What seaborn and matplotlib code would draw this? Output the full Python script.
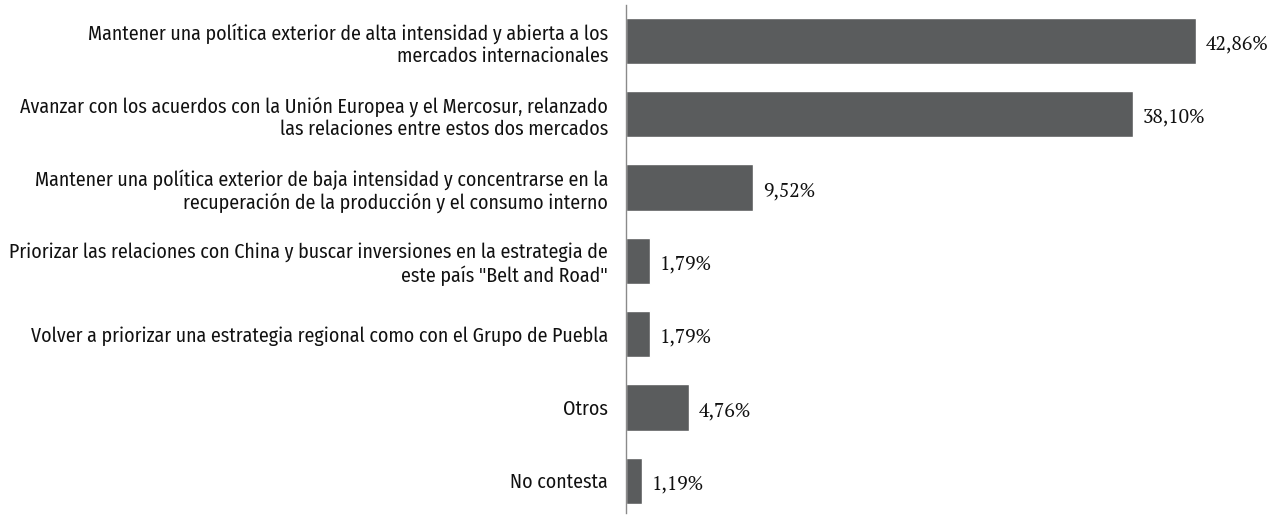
import matplotlib
matplotlib.use("Agg")
import matplotlib.pyplot as plt
import seaborn as sns
import pandas as pd

categorias = [
    "Mantener una política exterior de alta intensidad y abierta a los\nmercados internacionales",
    "Avanzar con los acuerdos con la Unión Europea y el Mercosur, relanzado\nlas relaciones entre estos dos mercados",
    "Mantener una política exterior de baja intensidad y concentrarse en la\nrecuperación de la producción y el consumo interno",
    "Priorizar las relaciones con China y buscar inversiones en la estrategia de\neste país \"Belt and Road\"",
    "Volver a priorizar una estrategia regional como con el Grupo de Puebla",
    "Otros",
    "No contesta",
]
porcentajes = [42.86, 38.10, 9.52, 1.79, 1.79, 4.76, 1.19]
etiquetas = ["42,86%", "38,10%", "9,52%", "1,79%", "1,79%", "4,76%", "1,19%"]

df = pd.DataFrame({"cat": categorias, "pct": porcentajes})

sns.set_style("white")
plt.rcParams["font.family"] = ["Fira Sans Condensed", "PT Sans Narrow", "Roboto Condensed", "DejaVu Sans"]

fig = plt.figure(figsize=(12.82, 5.15), dpi=100)
ax = fig.add_axes([626 / 1282, 1 - 513 / 515, 1 - 626 / 1282, 508 / 515])

sns.barplot(data=df, x="pct", y="cat", color="#5a5c5d", width=0.63,
            saturation=1, ax=ax, orient="h")

ax.set_xlim(0, 49.3)
ax.set_ylim(6.44, -0.49)
ax.set_xlabel("")
ax.set_ylabel("")
ax.set_xticks([])
ax.tick_params(axis="y", length=0, pad=13, labelsize=14.3, labelcolor="#111111")
for lab in ax.get_yticklabels():
    lab.set_horizontalalignment("right")
    lab.set_multialignment("right")
    lab.set_linespacing(1.17)

for s in ["top", "right", "bottom"]:
    ax.spines[s].set_visible(False)
ax.spines["left"].set_color("#8a8a8a")
ax.spines["left"].set_linewidth(1)

for i, (v, t) in enumerate(zip(porcentajes, etiquetas)):
    ax.text(v + 0.75, i + 0.05, t, va="center", ha="left",
            fontsize=14, color="#111111", family=["PT Serif", "Liberation Serif", "DejaVu Serif"])

fig.savefig("out.png", dpi=100)
